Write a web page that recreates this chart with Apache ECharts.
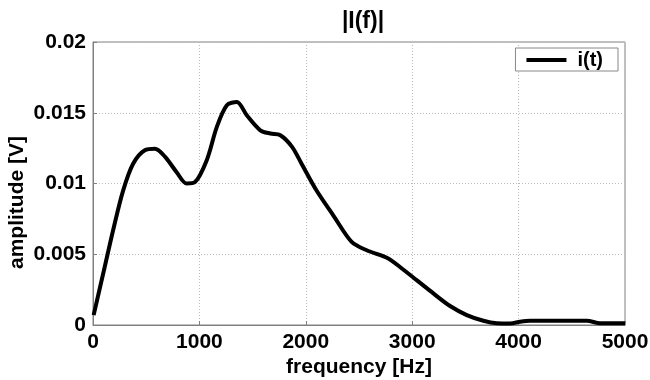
<!DOCTYPE html>
<html>
<head>
<meta charset="utf-8">
<script src="https://cdn.jsdelivr.net/npm/echarts@6/dist/echarts.min.js"></script>
<style>html,body{margin:0;padding:0;background:#fff}#c{width:650px;height:380px}</style>
</head>
<body>
<div id="c"></div>
<script>
var frequency = [6, 110, 189, 283, 377, 487, 582, 676, 786, 880, 959, 1069, 1164, 1258, 1352, 1447, 1572, 1667, 1761, 1871, 1960, 2101, 2258, 2431, 2572, 2775, 2885, 3042, 3199, 3356, 3513, 3669, 3795, 3920, 4014, 4108, 4453, 4641, 4767, 5000];
var amplitude = [0.0007, 0.0041, 0.0067, 0.0095, 0.0114, 0.01235, 0.01245, 0.0119, 0.0108, 0.0100, 0.0101, 0.01165, 0.0140, 0.01553, 0.01576, 0.0148, 0.01376, 0.01353, 0.01341, 0.01259, 0.0114, 0.0095, 0.00775, 0.00587, 0.00528, 0.0047, 0.0041, 0.00317, 0.00223, 0.00134, 0.0007, 0.0003, 0.00012, 0.0001, 0.00023, 0.0003, 0.0003, 0.0003, 0.00012, 0.00012];
var xTicks = [0, 1000, 2000, 3000, 4000, 5000];
var yTicks = [0, 0.005, 0.01, 0.015, 0.02];
var seriesName = 'i(t)';
var titleText = '|I(f)|';
var xName = 'frequency [Hz]';
var yName = 'amplitude [V]';

var pts = frequency.map(function (f, i) { return [f, amplitude[i]]; });
var font = 'Liberation Sans, Arial, sans-serif';
var chart = echarts.init(document.getElementById('c'), null, {renderer: 'canvas'});
chart.setOption({
  animation: false,
  title: {
    text: titleText, left: 358, top: 5, textAlign: 'center',
    textStyle: {fontFamily: font, fontWeight: 'bold', fontSize: 23, color: '#000'}
  },
  legend: {
    data: [seriesName], right: 32, top: 48,
    backgroundColor: '#fff', borderColor: '#888', borderWidth: 1, borderRadius: 0,
    padding: [2, 15, 1, 11], itemWidth: 40, itemHeight: 4, itemGap: 10,
    icon: 'rect',
    textStyle: {fontFamily: font, fontWeight: 'bold', fontSize: 20, color: '#000', padding: [0, 0, 0, 6]}
  },
  grid: {left: 93, right: 25, top: 42, bottom: 55, show: true, borderColor: '#808080', borderWidth: 1,
    containLabel: false, outerBoundsMode: 'none'},
  xAxis: {
    type: 'value', min: xTicks[0], max: xTicks[xTicks.length - 1], interval: 1000,
    name: xName, nameLocation: 'middle', nameGap: 32, nameMoveOverlap: false,
    nameTextStyle: {fontFamily: font, fontWeight: 'bold', fontSize: 21, color: '#000'},
    axisLine: {show: true, lineStyle: {color: '#808080'}},
    axisTick: {show: true, inside: true, length: 4, lineStyle: {color: '#808080'}},
    axisLabel: {fontFamily: font, fontWeight: 'bold', fontSize: 21, color: '#000', margin: 7,
      formatter: function (v) { return String(v); }},
    splitLine: {show: true, lineStyle: {color: '#bbb', type: [1, 2], width: 1}}
  },
  yAxis: {
    type: 'value', min: yTicks[0], max: yTicks[yTicks.length - 1], interval: 0.005,
    name: yName, nameLocation: 'middle', nameGap: 65, nameMoveOverlap: false,
    nameTextStyle: {fontFamily: font, fontWeight: 'bold', fontSize: 21, color: '#000', padding: [0, 38, 0, 0]},
    axisLine: {show: true, lineStyle: {color: '#808080'}},
    axisTick: {show: true, inside: true, length: 4, lineStyle: {color: '#808080'}},
    axisLabel: {fontFamily: font, fontWeight: 'bold', fontSize: 21, color: '#000', margin: 7,
      formatter: function (v) { return v === 0 ? '0' : String(+v.toFixed(3)); }},
    splitLine: {show: true, lineStyle: {color: '#bbb', type: [1, 2], width: 1}}
  },
  series: [{
    name: seriesName, type: 'line', data: pts, smooth: 0.3, showSymbol: false,
    lineStyle: {color: '#000', width: 4}, itemStyle: {color: '#000'}
  }]
});
</script>
</body>
</html>
